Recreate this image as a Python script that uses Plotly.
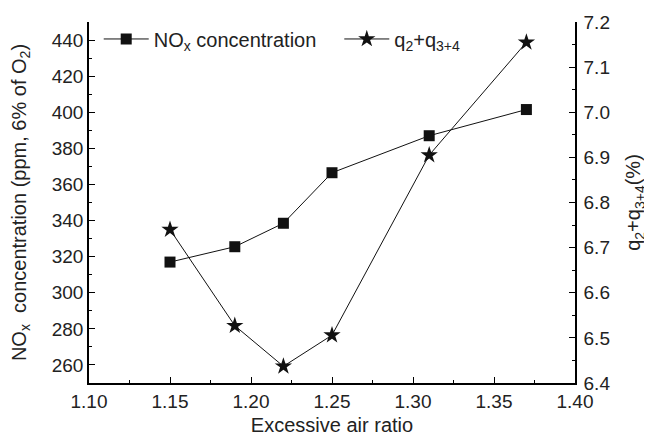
import plotly.graph_objects as go

x_ratio = [1.15, 1.19, 1.22, 1.25, 1.31, 1.37]
nox_ppm = [317, 325.5, 338.5, 366.5, 387, 401.5]
q_loss = [6.74, 6.527, 6.437, 6.506, 6.905, 7.155]

font_family = "Liberation Sans, Arial, sans-serif"
txt = "#222222"

fig = go.Figure()
fig.add_trace(go.Scatter(
    x=x_ratio, y=nox_ppm, mode="lines+markers",
    name="NO<sub>x</sub> concentration", legend="legend",
    line=dict(color="#111111", width=1),
    marker=dict(symbol="square", size=11, color="#111111"),
))
fig.add_trace(go.Scatter(
    x=x_ratio, y=q_loss, mode="lines+markers", yaxis="y2",
    name="q<sub>2</sub>+q<sub>3+4</sub>", legend="legend2",
    line=dict(color="#111111", width=1),
    marker=dict(symbol="star", size=13, color="#111111"),
))

axis_common = dict(
    showline=True, linecolor="black", linewidth=1.5,
    ticks="inside", ticklen=6, tickwidth=1.2, tickcolor="black",
    showgrid=False, zeroline=False, automargin=True,
    tickfont=dict(family=font_family, size=19, color=txt),
    title_font=dict(family=font_family, size=20, color=txt),
)

legend_common = dict(
    orientation="h", yanchor="middle", xanchor="left",
    bgcolor="rgba(0,0,0,0)", itemwidth=45,
    font=dict(family=font_family, size=20, color=txt),
)

fig.update_layout(
    width=644, height=428,
    margin=dict(l=81, r=77, t=14, b=53, autoexpand=False),
    paper_bgcolor="white", plot_bgcolor="white",
    showlegend=True,
    legend=dict(x=0.02, y=0.953, **legend_common),
    legend2=dict(x=0.515, y=0.953, **legend_common),
    xaxis=dict(
        range=[1.10, 1.40], dtick=0.05, tickformat=".2f",
        ticklabelstandoff=0,
        title=dict(text="Excessive air ratio", standoff=11),
        minor=dict(dtick=0.025, ticks="inside", ticklen=3, tickcolor="black"),
        **axis_common,
    ),
    yaxis=dict(
        range=[250, 450], tick0=260, dtick=20,
        ticklabelstandoff=0,
        title=dict(text="NO<sub>x</sub>  concentration (ppm, 6% of O<sub>2</sub>)", standoff=20),
        minor=dict(dtick=10, ticks="inside", ticklen=3, tickcolor="black"),
        **axis_common,
    ),
    yaxis2=dict(
        range=[6.4, 7.2], dtick=0.1, tickformat=".1f",
        overlaying="y", side="right",
        ticklabelstandoff=3,
        title=dict(text="q<sub>2</sub>+q<sub>3+4</sub>(%)", standoff=17),
        minor=dict(dtick=0.05, ticks="inside", ticklen=3, tickcolor="black"),
        **axis_common,
    ),
)

fig.write_html("out.html")
